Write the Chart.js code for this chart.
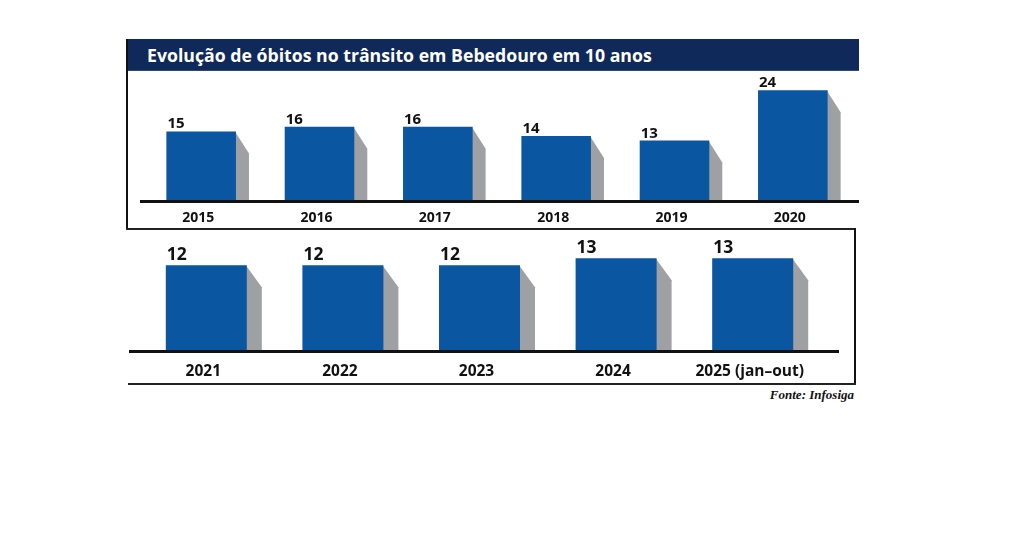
<!DOCTYPE html>
<html>
<head>
<meta charset="utf-8">
<script src="https://cdn.jsdelivr.net/npm/chart.js@4"></script>
<style>
  body { margin: 0; background: #fff; width: 1028px; height: 538px; position: relative; overflow: hidden; font-family: "Open Sans", sans-serif; }
  .abs { position: absolute; }
  #title { left: 127px; top: 39px; width: 732px; height: 32px; background: #0e295a; border-bottom: 1px solid #2a4a7c; box-sizing: border-box; }
  #title span { position: absolute; left: 20px; top: 4px; color: #fff; font-weight: 700; font-size: 17.7px; white-space: nowrap; }
  #source { right: 174px; top: 387px; font-family: "Liberation Serif", serif; font-style: italic; font-weight: 700; font-size: 13px; color: #111; }
</style>
</head>
<body>
<div id="title" class="abs"><span>Evolução de óbitos no trânsito em Bebedouro em 10 anos</span></div>
<!-- bordas dos painéis -->
<div class="abs" style="left:126px; top:39px; width:2px; height:191px; background:#111"></div>
<div class="abs" style="left:126px; top:228px; width:730px; height:2px; background:#222"></div>
<div class="abs" style="left:854px; top:228px; width:2px; height:157px; background:#111"></div>
<div class="abs" style="left:128px; top:383px; width:728px; height:2px; background:#222"></div>

<canvas id="c1" class="abs" style="left:140px; top:72px;"></canvas>
<canvas id="c2" class="abs" style="left:129px; top:230px;"></canvas>
<div id="source" class="abs">Fonte: Infosiga</div>

<script>
// dados
const anos1 = ["2015", "2016", "2017", "2018", "2019", "2020"];
const obitos1 = [15, 16, 16, 14, 13, 24];
const anos2 = ["2021", "2022", "2023", "2024", "2025 (jan–out)"];
const obitos2 = [12, 12, 12, 13, 13];

const AZUL = "#0a56a0";
const CINZA = "#9fa0a3";

// lateral cinza em perspectiva + rótulo do valor + linha de base
const barra3d = {
    id: "barra3d",
    beforeDatasetsDraw(chart) {
        const ctx = chart.ctx;
        const o = chart.options.plugins.barra3d;
        const meta = chart.getDatasetMeta(0);
        ctx.save();
        ctx.fillStyle = CINZA;
        meta.data.forEach((bar) => {
            const right = bar.x + bar.width / 2;
            ctx.beginPath();
            ctx.moveTo(right - 1, bar.y);
            ctx.lineTo(right + o.depth, bar.y + o.slant);
            ctx.lineTo(right + o.depth, bar.base);
            ctx.lineTo(right - 1, bar.base);
            ctx.closePath();
            ctx.fill();
        });
        ctx.restore();
    },
    afterDatasetsDraw(chart) {
        const ctx = chart.ctx;
        const o = chart.options.plugins.barra3d;
        const meta = chart.getDatasetMeta(0);
        const values = chart.data.datasets[0].data;
        ctx.save();
        // linha de base
        const base = meta.data[0].base;
        ctx.fillStyle = "#111";
        ctx.fillRect(0, base, chart.width, 3);
        // valores
        ctx.font = "700 " + o.fontSize + "px 'Open Sans', sans-serif";
        ctx.textAlign = "left";
        ctx.textBaseline = "alphabetic";
        meta.data.forEach((bar, i) => {
            ctx.fillText(values[i], bar.x - bar.width / 2 + 1, bar.y - o.gap);
        });
        ctx.restore();
    }
};

function painel(id, w, h, labels, data, cfg) {
    const cv = document.getElementById(id);
    cv.style.width = w + "px";
    cv.style.height = h + "px";
    return new Chart(cv, {
        type: "bar",
        data: {
            labels: labels,
            datasets: [{
                data: data,
                backgroundColor: AZUL,
                borderWidth: 0,
                barPercentage: cfg.barPct,
                categoryPercentage: 1
            }]
        },
        options: {
            responsive: false,
            animation: false,
            devicePixelRatio: 1,
            layout: { padding: { left: cfg.padL, right: cfg.padR, top: 0, bottom: 0 } },
            plugins: {
                legend: { display: false },
                tooltip: { enabled: false },
                barra3d: { depth: cfg.depth, slant: cfg.slant, fontSize: cfg.valFont, gap: cfg.gap }
            },
            scales: {
                x: {
                    grid: { display: false, drawTicks: false },
                    border: { display: false },
                    ticks: {
                        color: "#111",
                        padding: cfg.tickPad,
                        labelOffset: -3,
                        font: { family: "'Open Sans', sans-serif", weight: "700", size: cfg.tickFont }
                    },
                    afterFit: (scale) => { scale.height = cfg.axisH; }
                },
                y: { display: false, min: 0, max: cfg.max }
            }
        },
        plugins: [barra3d]
    });
}

painel("c1", 719, 156, anos1, obitos1, {
    barPct: 0.588, padL: 2, padR: 7, depth: 13, slant: 22,
    valFont: 15, gap: 3, tickFont: 14, tickPad: 10, axisH: 28, max: 28
});
painel("c2", 710, 150, anos2, obitos2, {
    barPct: 0.593, padL: 9, padR: 18, depth: 15, slant: 22,
    valFont: 17.5, gap: 5, tickFont: 15.5, tickPad: 12, axisH: 30, max: 17
});
</script>
</body>
</html>
